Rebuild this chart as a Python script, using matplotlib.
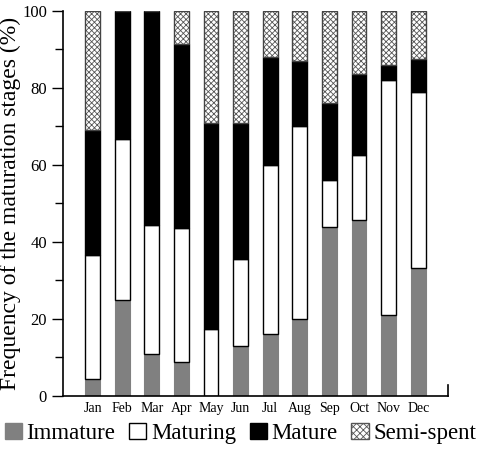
import matplotlib
matplotlib.use("Agg")
import matplotlib.pyplot as plt
from matplotlib.patches import Patch
import numpy as np

plt.rcParams['font.family'] = ['Liberation Serif', 'DejaVu Serif']
plt.rcParams['hatch.linewidth'] = 0.6

months = ["Jan", "Feb", "Mar", "Apr", "May", "Jun", "Jul", "Aug", "Sep", "Oct", "Nov", "Dec"]
# cumulative tops -> per stage percentages
immature = [4.5, 25, 11, 8.7, 0, 13, 16, 20, 44, 45.7, 21, 33.3]
maturing_top = [36.5, 66.7, 44.5, 43.5, 17.5, 35.5, 60, 70, 56, 62.5, 82, 79]
mature_top = [69, 100, 100, 91.5, 71, 71, 88, 87, 76, 83.5, 86, 87.5]

immature = np.array(immature)
maturing = np.array(maturing_top) - immature
mature = np.array(mature_top) - np.array(maturing_top)
semispent = 100 - np.array(mature_top)

fig = plt.figure(figsize=(4.81, 4.51), dpi=100)
ax = fig.add_axes([0.131, 0.122, 0.80, 0.854])

x = np.arange(len(months))
w = 0.5
grey = "#808080"

ax.bar(x, immature, w, color=grey, edgecolor=grey, linewidth=0.8)
ax.bar(x, maturing, w, bottom=immature, color="white", edgecolor="black", linewidth=1)
b2 = immature + maturing
ax.bar(x, mature, w, bottom=b2, color="black", edgecolor="black", linewidth=1)
b3 = b2 + mature
# hatch drawn in grey, then outline in dark grey
ax.bar(x, semispent, w, bottom=b3, color="white", edgecolor="#555555", hatch="xxxxxx", linewidth=0)
ax.bar(x, semispent, w, bottom=b3, fill=False, edgecolor="#444444", linewidth=1)

ax.set_xlim(-1, 12)
ax.set_ylim(0, 100)
ax.set_xticks(x)
ax.set_xticklabels(months, fontsize=10)
ax.tick_params(axis="x", length=0, pad=4)
ax.set_yticks(np.arange(0, 101, 20))
ax.set_yticks(np.arange(10, 100, 20), minor=True)
ax.tick_params(axis="y", which="major", length=8, width=1, labelsize=12, direction="out")
ax.tick_params(axis="y", which="minor", length=6, width=1, direction="out")
ax.spines["top"].set_visible(False)
ax.spines["right"].set_visible(False)
ax.spines["left"].set_linewidth(1.2)
ax.spines["bottom"].set_linewidth(1.2)
ax.plot([12, 12], [0, 2.8], color="black", linewidth=1.2, clip_on=False)
ax.set_ylabel("Frequency of the maturation stages (%)", fontsize=17, labelpad=1)

handles = [
    Patch(facecolor=grey, edgecolor=grey),
    Patch(facecolor="white", edgecolor="black"),
    Patch(facecolor="black", edgecolor="black"),
    Patch(facecolor="white", edgecolor="#555555", hatch="xxxxx"),
]
labels = ["Immature", "Maturing", "Mature", "Semi-spent"]
fig.legend(handles, labels, loc="lower center", bbox_to_anchor=(0.5, -0.015), ncol=4,
           frameon=False, fontsize=16.5, handlelength=0.75, handleheight=0.75,
           handletextpad=0.2, columnspacing=0.6, borderaxespad=0.2)

fig.savefig("out.png", dpi=100)
